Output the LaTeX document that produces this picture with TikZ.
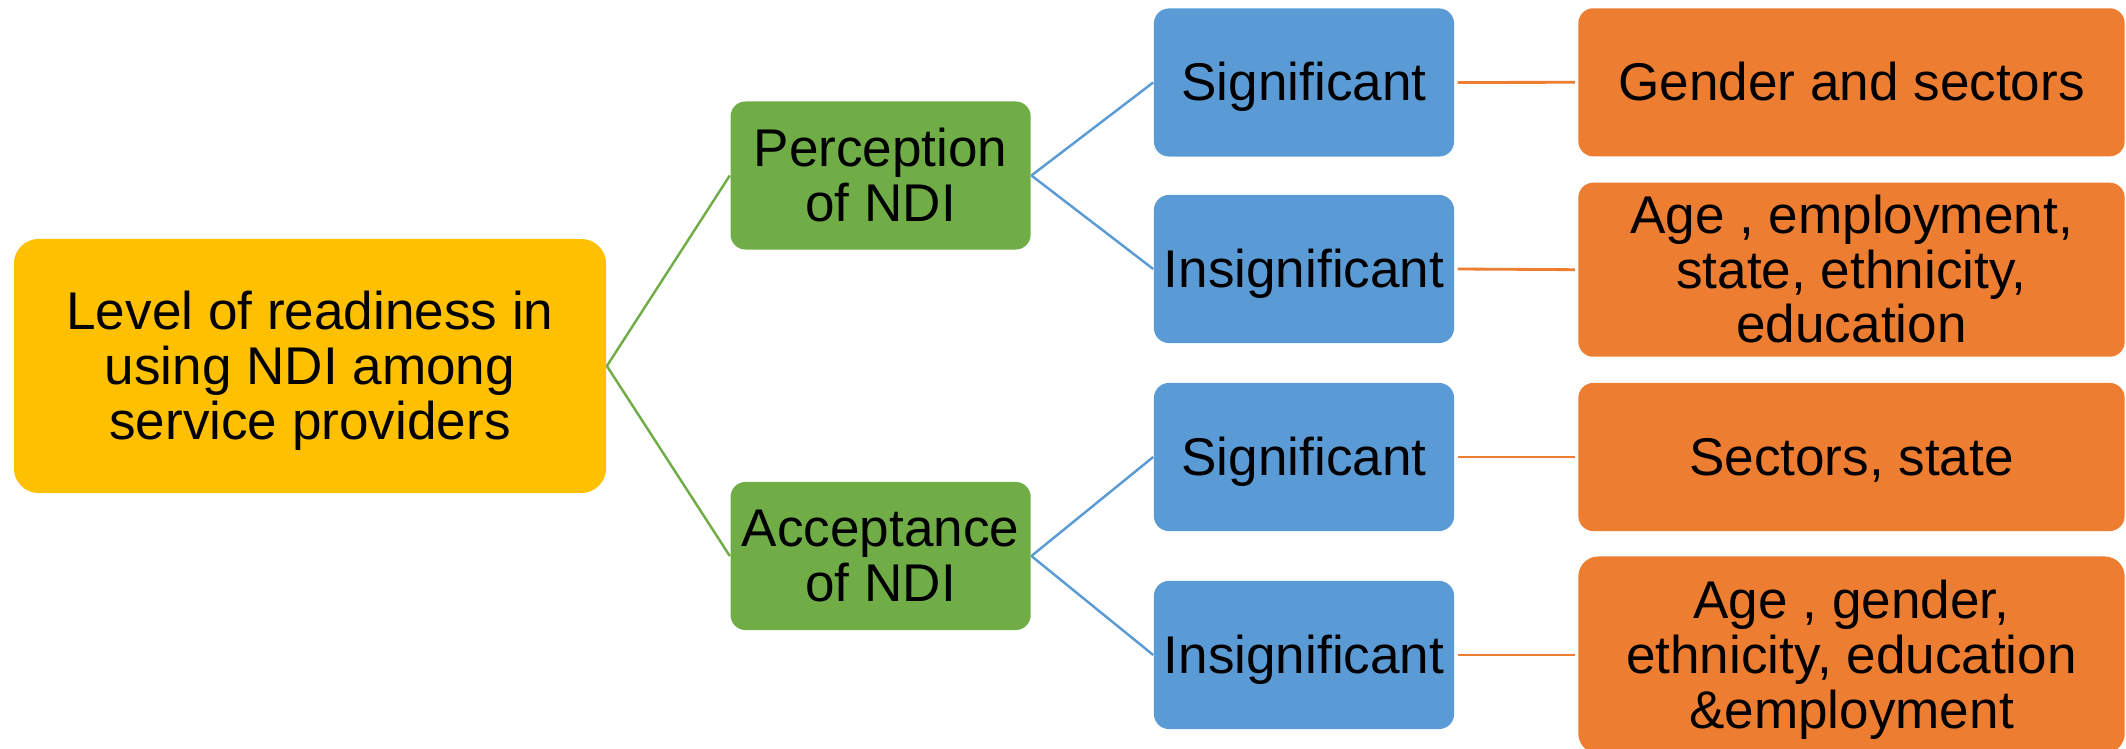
\documentclass[tikz,border=0pt]{standalone}
\usepackage{fontspec}
\setmainfont{Liberation Sans}
\definecolor{cyellow}{HTML}{FFC000}
\definecolor{cgreen}{HTML}{70AD47}
\definecolor{cblue}{HTML}{5B9BD5}
\definecolor{corange}{HTML}{ED7D31}
\newcommand{\topstrut}{\rule{0pt}{0.905em}}
\newcommand{\botstrut}{\rule[-0.212em]{0pt}{0.212em}}
\begin{document}
\begin{tikzpicture}[x=0.01cm,y=-0.01cm,
  box/.style={rounded corners=0.15cm, inner sep=0pt, align=center, text=black,
    font=\fontsize{15.1}{15.6}\selectfont},
  ybox/.style={box, fill=cyellow, rounded corners=0.25cm, minimum width=5.92cm, minimum height=2.54cm},
  gbox/.style={box, fill=cgreen, minimum width=3.00cm, minimum height=1.48cm},
  bbox/.style={box, fill=cblue, minimum width=3.00cm, minimum height=1.48cm},
  obox/.style={box, fill=corange, minimum width=5.46cm, minimum height=1.48cm},
  gline/.style={draw=cgreen, line width=0.7pt},
  bline/.style={draw=cblue, line width=0.7pt},
  oline/.style={draw=corange, line width=0.8pt}]
\useasboundingbox (0,0) rectangle (2126,749);
\node[ybox] (Y) at (310,366) {\topstrut Level of readiness in\\using NDI among\\service providers\botstrut};
\node[gbox] (G1) at (880.6,175.5) {\topstrut Perception\\of NDI\botstrut};
\node[gbox] (G2) at (880.6,556) {\topstrut Acceptance\\of NDI\botstrut};
\node[bbox] (B1) at (1304,82.5) {\topstrut Significant\botstrut};
\node[bbox] (B2) at (1304,269) {\topstrut Insignificant\botstrut};
\node[bbox] (B3) at (1304,457) {\topstrut Significant\botstrut};
\node[bbox] (B4) at (1304,655) {\topstrut Insignificant\botstrut};
\node[obox] (O1) at (1851.5,82.3) {\topstrut Gender and sectors\botstrut};
\node[obox, minimum height=1.74cm] (O2) at (1851.5,269.7) {\topstrut Age , employment,\\state, ethnicity,\\education\botstrut};
\node[obox] (O3) at (1851.5,457) {\topstrut Sectors, state\botstrut};
\node[obox, rounded corners=0.2cm, minimum height=1.97cm] (O4) at (1851.5,655) {\topstrut Age , gender,\\ethnicity, education\\\&employment\botstrut};
\draw[gline] (Y.east) -- (G1.west);
\draw[gline] (Y.east) -- (G2.west);
\draw[bline] (G1.east) -- (B1.west);
\draw[bline] (G1.east) -- (B2.west);
\draw[bline] (G2.east) -- (B3.west);
\draw[bline] (G2.east) -- (B4.west);
\draw[oline] ([xshift=0.8pt]B1.east) -- ([xshift=-0.8pt]O1.west);
\draw[oline] ([xshift=0.8pt]B2.east) -- ([xshift=-0.8pt]O2.west);
\draw[oline] ([xshift=0.8pt]B3.east) -- ([xshift=-0.8pt]O3.west);
\draw[oline] ([xshift=0.8pt]B4.east) -- ([xshift=-0.8pt]O4.west);
\end{tikzpicture}
\end{document}
